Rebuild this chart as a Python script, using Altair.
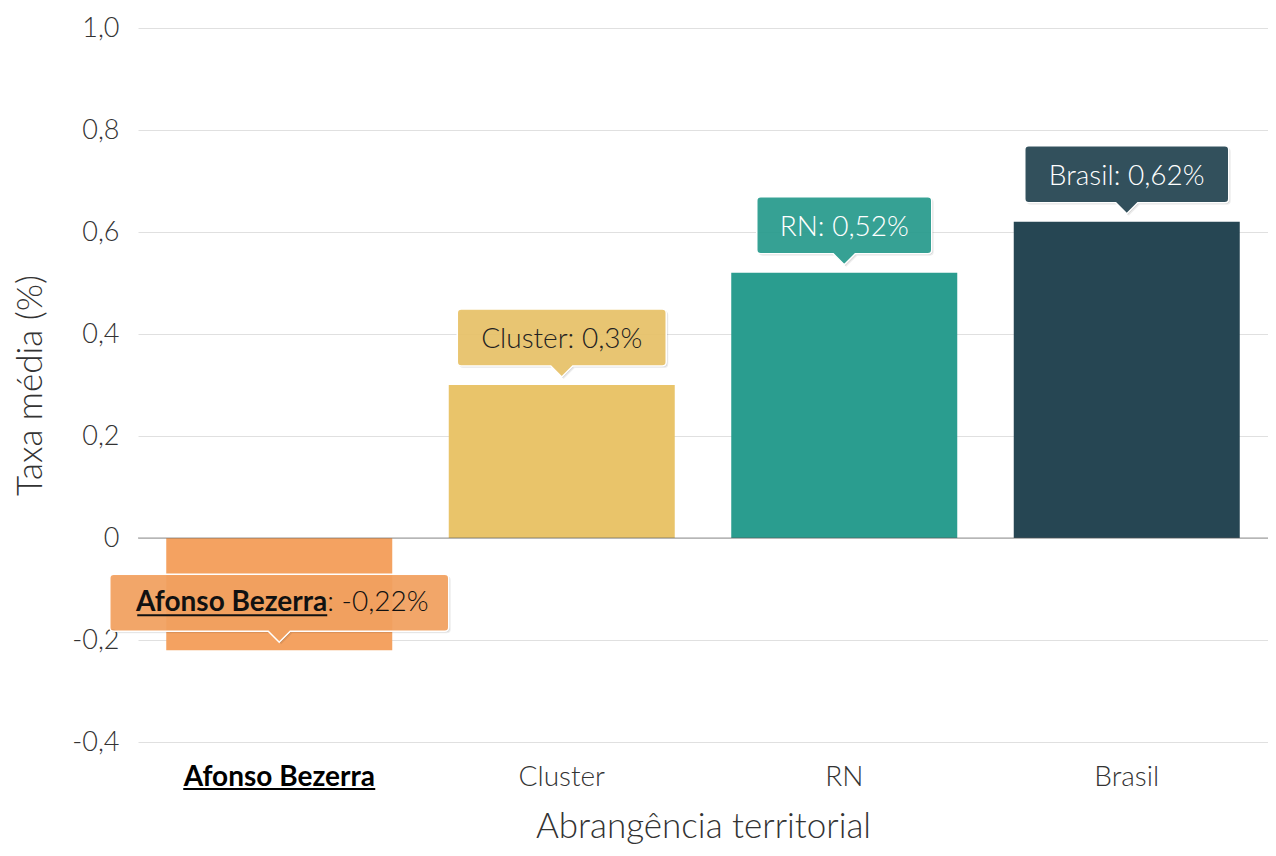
import altair as alt
import pandas as pd

# ---- data ----
categories = ["Afonso Bezerra", "Cluster", "RN", "Brasil"]
values = [-0.22, 0.30, 0.52, 0.62]
value_labels = ["-0,22%", "0,3%", "0,52%", "0,62%"]
bar_colors = ["#f4a261", "#e9c46a", "#2a9d8f", "#264653"]
text_colors = ["#111111", "#222222", "#ffffff", "#ffffff"]
highlight = "Afonso Bezerra"
y_ticks = [-0.4, -0.2, 0.0, 0.2, 0.4, 0.6, 0.8, 1.0]

# ---- styles ----
box_widths = {"Afonso Bezerra": 339, "Cluster": 209, "RN": 175, "Brasil": 204}
FONT = "Lato"
W, H = 1130, 714


def box_path(w, top=-76, bottom=-19, tip=-8, r=4, hb=11):
    h = w / 2
    return (
        f"M{-h + r},{top} L{h - r},{top} Q{h},{top} {h},{top + r} "
        f"L{h},{bottom - r} Q{h},{bottom} {h - r},{bottom} "
        f"L{hb},{bottom} L0,{tip} L{-hb},{bottom} "
        f"L{-h + r},{bottom} Q{-h},{bottom} {-h},{bottom - r} "
        f"L{-h},{top + r} Q{-h},{top} {-h + r},{top} Z"
    )


df = pd.DataFrame({
    "cat": categories,
    "value": values,
    "color": bar_colors,
    "tcolor": text_colors,
    "label": [f"{c}: {v}" for c, v in zip(categories, value_labels)],
    "rest": [f": {v}" for v in value_labels],
    "path": [box_path(box_widths[c]) for c in categories],
    "hl": [c == highlight for c in categories],
})

x_enc = alt.X(
    "cat:N",
    sort=categories,
    scale=alt.Scale(paddingInner=0.2, paddingOuter=0.1),
    axis=alt.Axis(
        title="Abrangência territorial",
        labelAngle=0,
        labelFont=FONT,
        labelFontSize=28,
        labelLimit=0,
        labelFontWeight=alt.expr(f"datum.value == '{highlight}' ? 'bold' : 300"),
        labelColor=alt.expr(f"datum.value == '{highlight}' ? '#000000' : '#333333'"),
        labelBaseline="alphabetic",
        labelPadding=43,
        ticks=False,
        domain=False,
        titleFont=FONT,
        titleFontSize=35,
        titleFontWeight=300,
        titleColor="#333333",
        titleBaseline="alphabetic",
        titleY=95,
    ),
)
y_enc = alt.Y(
    "value:Q",
    scale=alt.Scale(domain=[-0.4, 1.0], nice=False, zero=False),
    axis=alt.Axis(
        values=y_ticks,
        title="Taxa média (%)",
        labelExpr="datum.value == 0 ? '0' : replace(replace(format(datum.value, '.1f'), '.', ','), '\u2212', '-')",
        labelFont=FONT,
        labelFontSize=27,
        labelFontWeight=300,
        labelColor="#333333",
        labelPadding=19,
        ticks=False,
        domain=False,
        grid=True,
        gridColor="#e0e0e0",
        gridWidth=1,
        titleFont=FONT,
        titleFontSize=35,
        titleFontWeight=300,
        titleColor="#333333",
        titleX=-108,
        titleY=H / 2,
        titleBaseline="middle",
    ),
)

base = alt.Chart(df)

bars = base.mark_bar().encode(
    x=x_enc, y=y_enc, color=alt.Color("color:N", scale=None)
)

zero = base.transform_filter("datum.hl").mark_rule(color="#555555", opacity=0.3, strokeWidth=2).encode(
    y=alt.datum(0)
)

shadow1 = base.mark_point(filled=True, opacity=1, color="#000000", fillOpacity=0.12, xOffset=1, yOffset=1).encode(
    x=alt.X("cat:N", sort=categories), y="value:Q",
    shape=alt.Shape("path:N", scale=None), size=alt.value(4),
)
shadow2 = base.mark_point(filled=True, opacity=1, color="#000000", fillOpacity=0.07, xOffset=2, yOffset=2).encode(
    x=alt.X("cat:N", sort=categories), y="value:Q",
    shape=alt.Shape("path:N", scale=None), size=alt.value(4),
)

box = base.mark_point(filled=True, opacity=1, fillOpacity=0.93, stroke="#ffffff", strokeWidth=1.5, strokeOpacity=1).encode(
    x=alt.X("cat:N", sort=categories), y="value:Q",
    shape=alt.Shape("path:N", scale=None), size=alt.value(4),
    fill=alt.Fill("color:N", scale=None),
)

txt = base.transform_filter("!datum.hl").mark_text(
    font=FONT, fontSize=28, fontWeight=300, align="center", baseline="alphabetic", yOffset=-37
).encode(
    x=alt.X("cat:N", sort=categories), y="value:Q", text="label:N",
    color=alt.Color("tcolor:N", scale=None),
)

hl_bold = base.transform_filter("datum.hl").mark_text(
    font=FONT, fontSize=28, fontWeight="bold", align="right", baseline="alphabetic", yOffset=-39, xOffset=48
).encode(
    x=alt.X("cat:N", sort=categories), y="value:Q", text="cat:N",
    color=alt.Color("tcolor:N", scale=None),
)
hl_rest = base.transform_filter("datum.hl").mark_text(
    font=FONT, fontSize=28, fontWeight=300, align="left", baseline="alphabetic", yOffset=-39, xOffset=48
).encode(
    x=alt.X("cat:N", sort=categories), y="value:Q", text="rest:N",
    color=alt.Color("tcolor:N", scale=None),
)

underline_tip = base.transform_filter("datum.hl").transform_calculate(
    upath="'M-142,-36 L48,-36 L48,-34 L-142,-34 Z'"
).mark_point(filled=True, opacity=1, color="#111111").encode(
    x=alt.X("cat:N", sort=categories), y="value:Q",
    shape=alt.Shape("upath:N", scale=None), size=alt.value(4),
)

underline_axis = base.transform_filter("datum.hl").transform_calculate(
    upath="'M-96,46 L96,46 L96,48 L-96,48 Z'"
).mark_point(filled=True, opacity=1, color="#000000").encode(
    x=alt.X("cat:N", sort=categories), y=alt.value(H),
    shape=alt.Shape("upath:N", scale=None), size=alt.value(4),
)

chart = alt.layer(
    bars, zero, shadow2, shadow1, box, txt, hl_bold, hl_rest, underline_tip, underline_axis
).properties(
    width=W, height=H,
    autosize=alt.AutoSizeParams(type="none"),
    padding={"left": 130, "top": 20, "right": 0, "bottom": 106},
).configure_view(stroke=None)

chart.save("out.html", embed_options={"renderer": "svg", "actions": False})
